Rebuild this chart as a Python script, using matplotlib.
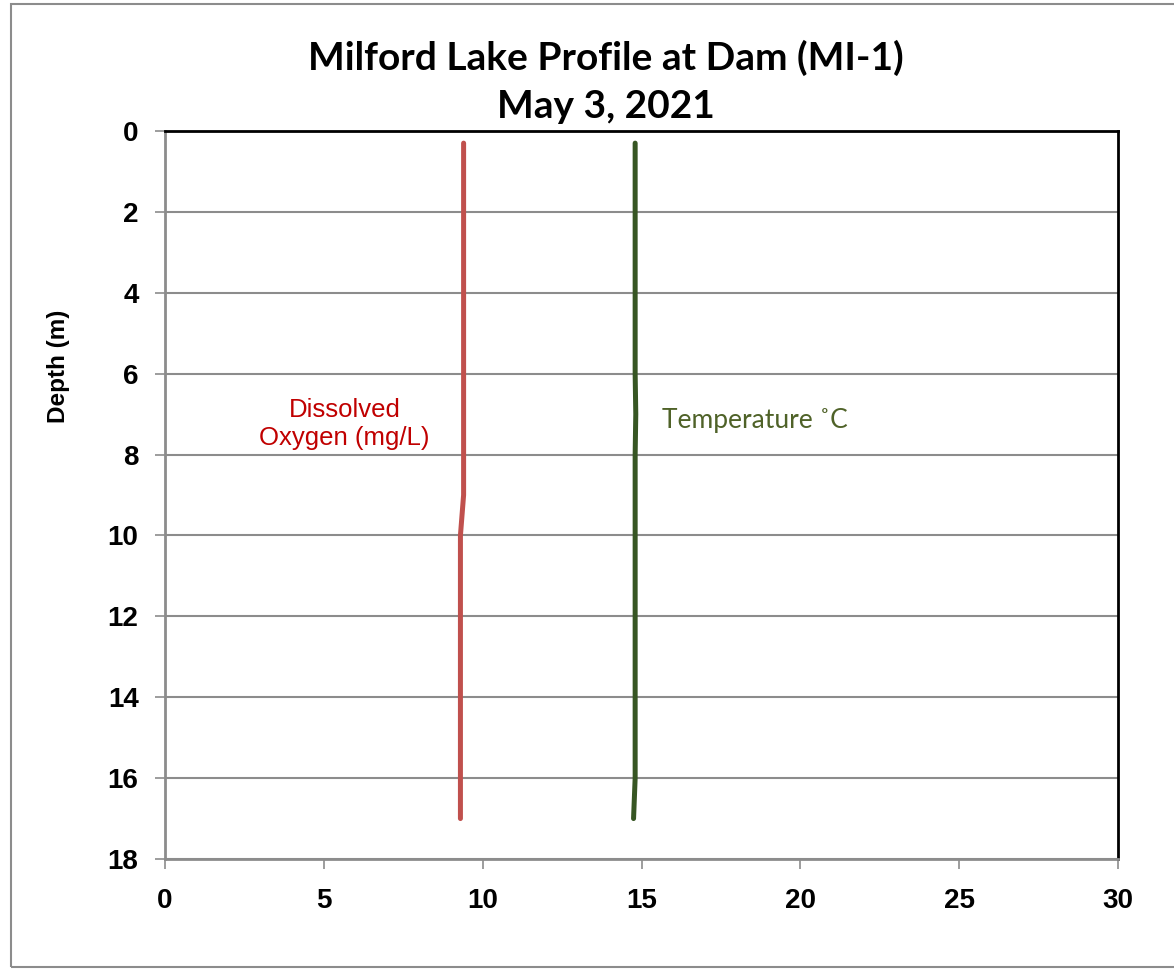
import matplotlib
matplotlib.use("Agg")
import matplotlib.pyplot as plt
from matplotlib.patches import Rectangle

# profile data
depth = [0.3, 1, 2, 3, 4, 5, 6, 7, 8, 9, 10, 11, 12, 13, 14, 15, 16, 17]
dissolved_oxygen = [9.4, 9.4, 9.4, 9.4, 9.4, 9.4, 9.4, 9.4, 9.4, 9.4,
                    9.3, 9.3, 9.3, 9.3, 9.3, 9.3, 9.3, 9.3]
temperature = [14.8, 14.8, 14.8, 14.8, 14.8, 14.8, 14.8, 14.82, 14.8, 14.8,
               14.8, 14.8, 14.8, 14.8, 14.8, 14.8, 14.8, 14.75]

x_ticks = [0, 5, 10, 15, 20, 25, 30]
y_ticks = [0, 2, 4, 6, 8, 10, 12, 14, 16, 18]

W, H = 1174, 977
fig = plt.figure(figsize=(W / 100, H / 100), dpi=100)
fig.patches.append(Rectangle((11 / W, 1 - 967 / H), 1.2, (967 - 4) / H,
                             transform=fig.transFigure, fill=False,
                             edgecolor="#8c8c8c", linewidth=1.5))

ax = fig.add_axes([165 / W, 1 - 859 / H, (1118 - 165) / W, (859 - 131) / H])
ax.plot(dissolved_oxygen, depth, color="#C0504D", linewidth=3.6,
        solid_capstyle="round", solid_joinstyle="round", zorder=3)
ax.plot(temperature, depth, color="#375623", linewidth=3.6,
        solid_capstyle="round", solid_joinstyle="round", zorder=3)

ax.set_xlim(0, 30)
ax.set_ylim(18, 0)
ax.set_xticks(x_ticks)
ax.set_yticks(y_ticks)
ax.yaxis.grid(True, color="#8c8c8c", linewidth=1.5)
ax.set_axisbelow(True)

for s in ["top", "right"]:
    ax.spines[s].set_color("black")
    ax.spines[s].set_linewidth(2)
for s in ["left", "bottom"]:
    ax.spines[s].set_color("#8c8c8c")
    ax.spines[s].set_linewidth(2)

ax.tick_params(axis="both", direction="out", length=7, width=1.2,
               color="#8c8c8c")
for lab in ax.get_xticklabels() + ax.get_yticklabels():
    lab.set_fontfamily("Liberation Sans")
    lab.set_fontweight("bold")
    lab.set_fontsize(20)
ax.tick_params(axis="x", pad=14)
ax.tick_params(axis="y", pad=12)

ax.set_ylabel("Depth (m)", fontfamily="Liberation Sans", fontweight="bold",
              fontsize=17.5)
ax.yaxis.set_label_coords(-0.100, 0.677)

fig.text(606 / W, 1 - 58 / H, "Milford Lake Profile at Dam (MI-1)",
         ha="center", va="center", fontfamily="Lato", fontweight="bold",
         fontsize=28)
fig.text(606 / W, 1 - 107 / H, "May 3, 2021",
         ha="center", va="center", fontfamily="Lato", fontweight="bold",
         fontsize=28)

ax.text(5.65, 7.25, "Dissolved\nOxygen (mg/L)", ha="center", va="center",
        color="#C00000", fontfamily="Liberation Sans", fontsize=18.5,
        linespacing=1.2)
ax.text(15.65, 7.15, "Temperature \u02daC", ha="left", va="center",
        color="#4F6228", fontfamily="Lato", fontsize=19)

fig.savefig("out.png", dpi=100)
